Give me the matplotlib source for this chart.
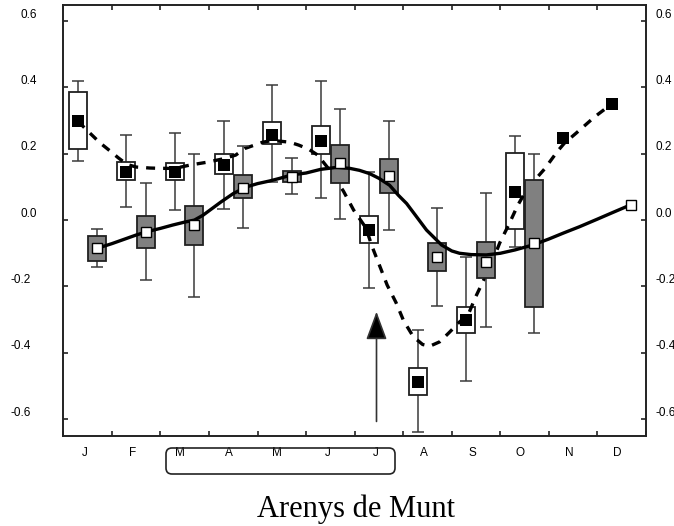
import matplotlib
matplotlib.use("Agg")
import matplotlib.pyplot as plt
import matplotlib.transforms as mtransforms
from matplotlib.patches import Rectangle, FancyBboxPatch
import numpy as np

months = ['J', 'F', 'M', 'A', 'M', 'J', 'J', 'A', 'S', 'O', 'N', 'D']
nan = np.nan

# open boxes with black squares (Jan..Dec, no box in Nov/Dec)
open_lo = [0.178, 0.038, 0.031, 0.034, 0.114, 0.066, -0.206, -0.640, -0.485, -0.080, nan, nan]
open_q1 = [0.215, 0.120, 0.120, 0.138, 0.228, 0.200, -0.070, -0.527, -0.341, -0.028, nan, nan]
open_q3 = [0.385, 0.174, 0.172, 0.199, 0.297, 0.285, 0.012, -0.447, -0.261, 0.203, nan, nan]
open_hi = [0.420, 0.256, 0.263, 0.300, 0.407, 0.418, 0.145, -0.331, -0.110, 0.253, nan, nan]
open_mean = [0.299, 0.145, 0.145, 0.166, 0.258, 0.239, -0.030, -0.487, -0.300, 0.085, 0.249, 0.351]

# grey boxes with white squares
grey_lo = [-0.140, -0.182, -0.231, -0.024, 0.079, 0.002, -0.031, -0.258, -0.323, -0.339, nan, nan]
grey_q1 = [-0.123, -0.083, -0.075, 0.066, 0.115, 0.112, 0.082, -0.154, -0.174, -0.261, nan, nan]
grey_q3 = [-0.047, 0.012, 0.043, 0.135, 0.149, 0.226, 0.185, -0.070, -0.065, 0.120, nan, nan]
grey_hi = [-0.027, 0.111, 0.198, 0.224, 0.187, 0.336, 0.300, 0.035, 0.082, 0.200, nan, nan]
grey_mid = [-0.085, -0.035, -0.015, 0.098, 0.130, 0.171, 0.133, -0.112, -0.125, -0.070, nan, 0.047]

# smoothed curves (x in months)
solid_x = [0.70, 1.00, 1.25, 1.50, 1.72, 2.00, 2.25, 2.50, 2.70, 2.88, 3.00, 3.25, 3.50,
           3.77, 4.00, 4.25, 4.46, 4.70, 5.00, 5.30, 5.63, 5.90, 6.10, 6.31, 6.50, 6.72,
           6.90, 7.07, 7.25, 7.48, 7.79, 8.00, 8.16, 8.40, 8.71, 9.00, 9.30, 9.67, 10.00,
           10.30, 10.63, 11.00, 11.30, 11.70]
solid_y = [-0.085, -0.071, -0.058, -0.045, -0.035, -0.025, -0.015, -0.006, 0.000, 0.015,
           0.028, 0.055, 0.080, 0.100, 0.110, 0.118, 0.126, 0.136, 0.142, 0.153, 0.159,
           0.156, 0.150, 0.140, 0.126, 0.105, 0.075, 0.050, 0.015, -0.030, -0.075, -0.093,
           -0.100, -0.104, -0.105, -0.100, -0.090, -0.075, -0.057, -0.039, -0.020, 0.003,
           0.022, 0.047]
dash_x = [0.30, 0.55, 0.755, 0.95, 1.13, 1.31, 1.50, 1.78, 2.00, 2.30, 2.61, 2.98, 3.30,
          3.55, 3.74, 4.11, 4.31, 4.66, 4.85, 5.05, 5.24, 5.50, 5.77, 5.98, 6.23, 6.36,
          6.51, 6.67, 6.85, 7.01, 7.21, 7.40, 7.55, 7.75, 7.94, 8.16, 8.33, 8.49, 8.66,
          8.83, 8.99, 9.17, 9.36, 9.56, 9.91, 10.18, 10.32, 10.56, 10.94, 11.30]
dash_y = [0.298, 0.262, 0.233, 0.210, 0.188, 0.168, 0.160, 0.157, 0.156, 0.156, 0.166,
          0.175, 0.185, 0.196, 0.216, 0.235, 0.240, 0.235, 0.226, 0.214, 0.196, 0.148,
          0.087, 0.030, -0.023, -0.080, -0.136, -0.196, -0.248, -0.304, -0.352, -0.375,
          -0.380, -0.367, -0.340, -0.307, -0.288, -0.232, -0.180, -0.127, -0.068, -0.015,
          0.045, 0.096, 0.154, 0.208, 0.232, 0.262, 0.311, 0.351]

yticks = [-0.6, -0.4, -0.2, 0.0, 0.2, 0.4, 0.6]
ytick_labels = ['-0.6', '-0.4', '-0.2', '0.0', '0.2', '0.4', '0.6']

plt.rcParams['font.family'] = ['Liberation Sans', 'DejaVu Sans']

BOX_W = 0.37
CAP = 0.125
OFFSET = 0.2


def draw_boxes(ax, xs, lo, q1, q3, hi, face, z):
    for x, a, b, c, d in zip(xs, lo, q1, q3, hi):
        if np.isnan(b):
            continue
        ax.vlines(x, a, d, colors='#3a3a3a', lw=1.1, zorder=z)
        ax.hlines([a, d], x - CAP, x + CAP, colors='#3a3a3a', lw=1.1, zorder=z)
        ax.add_patch(Rectangle((x - BOX_W / 2, b), BOX_W, c - b, facecolor=face,
                               edgecolor='#202020', lw=1.3, zorder=z))


def main():
    fig = plt.figure(figsize=(6.74, 5.26), dpi=100)
    ax = fig.add_axes([63.3 / 674, 90.3 / 526, 582.7 / 674, 431.2 / 526])

    centers = np.arange(len(months)) + 0.5
    open_x = centers - OFFSET
    grey_x = centers + OFFSET

    draw_boxes(ax, open_x, open_lo, open_q1, open_q3, open_hi, 'white', 2)
    ax.plot(dash_x, dash_y, color='black', lw=2.4, ls=(0, (2.7, 2.4)), zorder=3)
    draw_boxes(ax, grey_x, grey_lo, grey_q1, grey_q3, grey_hi, '#808080', 4)
    ax.plot(solid_x, solid_y, color='black', lw=2.4, zorder=5, solid_capstyle='round')

    ax.plot(open_x, open_mean, 's', color='black', ms=8.2, mew=0, ls='none', zorder=6)
    ax.plot(grey_x, grey_mid, 's', mfc='white', mec='black', ms=6.6, mew=1.0,
            ls='none', zorder=6)

    # arrow pointing at July
    ax.annotate('', xy=(6.45, -0.276), xytext=(6.45, -0.607),
                arrowprops=dict(arrowstyle='-|>,head_length=1.75,head_width=0.65',
                                mutation_scale=10, lw=1.2, ec='#333333', fc='black',
                                shrinkA=0, shrinkB=0), zorder=6)

    ax.set_xlim(0, 12)
    ax.set_ylim(-0.65, 0.65)

    ax.set_xticks(np.arange(13))
    ax.set_xticklabels([])
    ax.set_xticks(centers, minor=True)
    ax.set_xticklabels(months, minor=True, ha='right')
    ax.tick_params(axis='x', which='major', direction='in', length=3.5, width=1.2,
                   top=True, bottom=True, color='#222222')
    ax.tick_params(axis='x', which='minor', length=0, pad=7.8, labelsize=8.5)

    ax.set_yticks(yticks)
    ax.set_yticklabels(ytick_labels)
    ax.tick_params(axis='y', direction='in', length=3.5, width=1.2, left=True, right=True,
                   labelleft=True, labelright=True, pad=6.5, labelsize=8.5, color='#222222')

    for tick, v in zip(ax.yaxis.get_major_ticks(), yticks):
        dx = -17 if v >= 0 else -23.6
        tick.label1.set_transform(tick.label1.get_transform() +
                                  mtransforms.ScaledTranslation(dx / 100, 8 / 100,
                                                                fig.dpi_scale_trans))
        tick.label2.set_transform(tick.label2.get_transform() +
                                  mtransforms.ScaledTranslation(0, 8 / 100,
                                                                fig.dpi_scale_trans))

    for sp in ax.spines.values():
        sp.set_linewidth(1.4)
        sp.set_color('#222222')

    # bracket under the Mar-Jul labels
    bracket = FancyBboxPatch((1.66, 0.52), 2.29, 0.26,
                             boxstyle='round,pad=0,rounding_size=0.06',
                             transform=fig.dpi_scale_trans, fill=False, lw=1.2,
                             ec='#222222')
    fig.add_artist(bracket)

    fig.text(356 / 674, 1 - 516.7 / 526, 'Arenys de Munt', ha='center', va='baseline',
             family='Liberation Serif', fontsize=22)

    fig.savefig('out.png', dpi=100)
    plt.close(fig)


if __name__ == "__main__":
    main()
